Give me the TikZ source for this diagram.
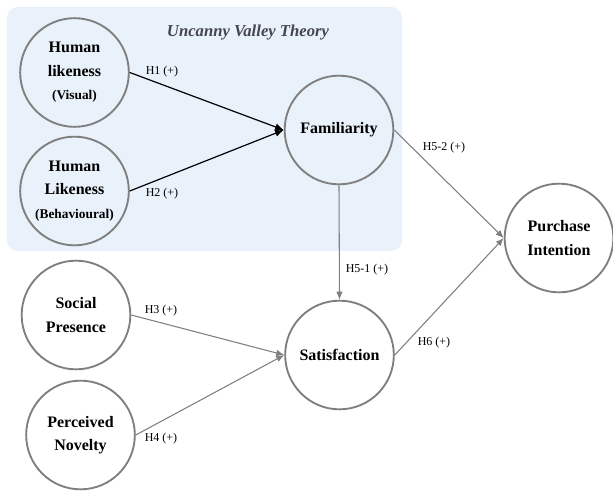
\documentclass[tikz,border=0pt]{standalone}
\usepackage{fontspec}
\setmainfont{Liberation Serif}
\usetikzlibrary{shapes,arrows,positioning,calc,arrows.meta}
\definecolor{bgblue}{HTML}{E9F1FA}
\definecolor{ringgray}{HTML}{7F7F7F}
\definecolor{titlegray}{HTML}{45454F}
\tikzset{
    construct/.style={draw=ringgray, line width=1.4pt, circle, minimum size=81.5pt, inner sep=0pt, align=center, font=\fontsize{12}{17.5}\selectfont\bfseries},
    hyp/.style={draw=ringgray, line width=0.8pt, -{Latex[length=6pt,width=5pt]}},
    hypblack/.style={draw=black, line width=0.9pt, -{Latex[length=6.5pt,width=5.5pt]}},
    hlabel/.style={font=\fontsize{9}{11}\selectfont, inner sep=1pt}
}
\newcommand{\smallline}[1]{{\fontsize{10}{17.5}\selectfont #1}}

\begin{document}
\begin{tikzpicture}[x=0.75pt, y=-0.75pt]
    \useasboundingbox (0,0) rectangle (613,492);
    \fill[bgblue, rounded corners=8pt] (7,7) rectangle (402,251);
    \node[font=\fontsize{12.5}{14}\selectfont\bfseries\itshape, text=titlegray] (uvt) at (248,33) {Uncanny Valley Theory};

    \node[construct] (hlv) at (74.5,72.5) {Human\\likeness\\\smallline{(Visual)}};
    \node[construct] (hlb) at (74.5,191) {Human\\Likeness\\\smallline{(Behavioural)}};
    \node[construct] (fam) at (339,130) {Familiarity};
    \node[construct] (sp) at (76,315) {Social\\Presence};
    \node[construct] (pn) at (80.5,435) {Perceived\\Novelty};
    \node[construct] (sat) at (339.5,355) {Satisfaction};
    \node[construct] (pi) at (559,238) {Purchase\\Intention};

    \draw[hypblack] (hlv.east) -- (fam.west);
    \draw[hypblack] (hlb.east) -- (fam.west);
    \draw[hyp] (sp.east) -- (sat.west);
    \draw[hyp] (pn.east) -- (sat.west);
    \draw[hyp] (fam.south) -- (sat.north);
    \draw[hyp] (fam.east) -- (pi.west);
    \draw[hyp] (sat.east) -- (pi.west);

    \node[hlabel] (h1) at (162,72) {H1 (+)};
    \node[hlabel] (h2) at (162,194) {H2 (+)};
    \node[hlabel] (h3) at (161,311) {H3 (+)};
    \node[hlabel] (h4) at (161,439) {H4 (+)};
    \node[hlabel] (h51) at (367,270) {H5-1 (+)};
    \node[hlabel] (h52) at (444,148) {H5-2 (+)};
    \node[hlabel] (h6) at (434,343) {H6 (+)};
\end{tikzpicture}
\end{document}
